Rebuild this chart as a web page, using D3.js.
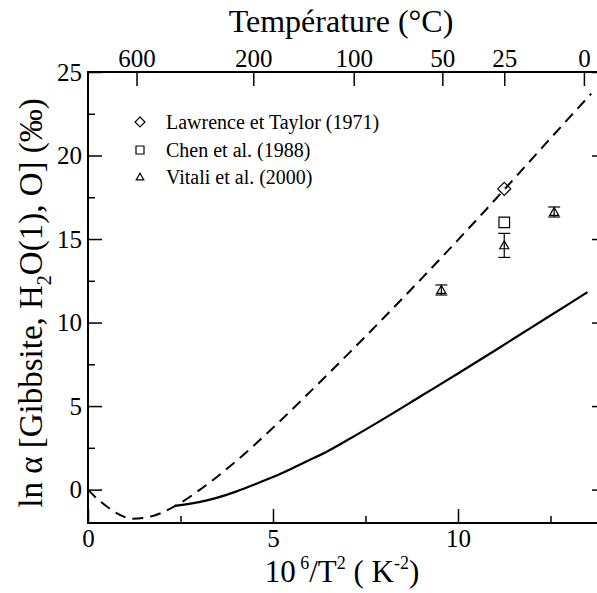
<!DOCTYPE html>
<html><head><meta charset="utf-8">
<script src="https://cdn.jsdelivr.net/npm/d3@7"></script>
<style>body{margin:0;background:#fff}svg{display:block}</style></head>
<body>
<svg id="c" width="597" height="593"></svg>
<script>
// ---- data ----
const dashedX = [0, 0.25, 0.5, 0.75, 1.0, 1.2, 1.5, 2.0, 2.35, 3.0, 4.0, 5.0, 6.0, 7.0, 8.0, 9.0, 10.0, 11.0, 12.0, 13.0, 13.6];
const dashedY = [0, -0.55, -1.0, -1.38, -1.65, -1.75, -1.7, -1.38, -0.99, -0.05, 1.7, 3.7, 5.85, 8.05, 10.3, 12.6, 14.95, 17.35, 19.8, 22.25, 23.7];
const solidX = [2.35, 2.6, 3.0, 3.5, 4.0, 4.5, 5.0, 5.5, 6.0, 6.5, 7.0, 8.0, 9.0, 10.0, 11.0, 12.0, 13.0, 13.5];
const solidY = [-0.97, -0.9, -0.75, -0.48, -0.12, 0.3, 0.75, 1.25, 1.78, 2.33, 2.95, 4.25, 5.6, 6.95, 8.33, 9.73, 11.12, 11.82];
const seriesNames = ["Lawrence et Taylor (1971)", "Chen et al. (1988)", "Vitali et al. (2000)"];
const lawrenceX = [11.25], lawrenceY = [18.0];
const chenX = [11.25], chenY = [16.0];
const vitaliX = [9.55, 11.25, 12.6];
const vitaliY = [11.95, 14.62, 16.62];
const vitaliErr = [0.3, 0.72, 0.3];
const xMajor = [0, 5, 10], xMinor = [2.5, 7.5, 12.5];
const yMajor = [0, 5, 10, 15, 20, 25], yMinor = [2.5, 7.5, 12.5, 17.5, 22.5];
const topTempLabels = [600, 200, 100, 50, 25, 0];

// ---- layout ----
const L = 88, R = 606, T = 72, B = 523;
const svg = d3.select("#c");
const x = d3.scaleLinear().domain([0, 14]).range([L, R]);
const y = d3.scaleLinear().domain([-2, 25]).range([B, T]);
const FONT = "'Liberation Serif','Times New Roman',serif";
const toInvT2 = t => 1e6 / Math.pow(t + 273.15, 2);
const TICKFS = 25;

function styleAxis(g, fs) {
  g.select(".domain").remove();
  g.selectAll("line").attr("stroke", "#000").attr("stroke-width", 1.5);
  g.selectAll("text").attr("font-family", FONT).attr("font-size", fs).attr("fill", "#000");
}
// left
svg.append("g").attr("transform", `translate(${L},0)`)
  .call(d3.axisLeft(y).tickValues(yMajor).tickSize(-14).tickPadding(6).tickFormat(d3.format("d")))
  .call(g => styleAxis(g, TICKFS));
svg.append("g").attr("transform", `translate(${L},0)`)
  .call(d3.axisLeft(y).tickValues(yMinor).tickSize(-7).tickFormat(""))
  .call(g => styleAxis(g, TICKFS));
// right
svg.append("g").attr("transform", `translate(${R},0)`)
  .call(d3.axisRight(y).tickValues(yMajor).tickSize(-14).tickFormat(""))
  .call(g => styleAxis(g, TICKFS));
// bottom
svg.append("g").attr("transform", `translate(0,${B})`)
  .call(d3.axisBottom(x).tickValues(xMajor).tickSize(-14).tickPadding(6).tickFormat(d3.format("d")))
  .call(g => styleAxis(g, TICKFS));
svg.append("g").attr("transform", `translate(0,${B})`)
  .call(d3.axisBottom(x).tickValues(xMinor).tickSize(-7).tickFormat(""))
  .call(g => styleAxis(g, TICKFS));
// top (temperature)
svg.append("g").attr("transform", `translate(0,${T})`)
  .call(d3.axisTop(x).tickValues(topTempLabels.map(toInvT2)).tickSize(-14).tickPadding(5)
    .tickFormat((d, i) => topTempLabels[i]))
  .call(g => styleAxis(g, TICKFS));

// frame
svg.append("rect").attr("x", L).attr("y", T).attr("width", R - L).attr("height", B - T)
  .attr("fill", "none").attr("stroke", "#000").attr("stroke-width", 2);

// curves
const line = d3.line().x(d => x(d[0])).y(d => y(d[1])).curve(d3.curveMonotoneX);
svg.append("path").datum(dashedX.map((v, i) => [v, dashedY[i]]))
  .attr("d", line).attr("fill", "none").attr("stroke", "#000").attr("stroke-width", 2)
  .attr("stroke-dasharray", "11,7");
svg.append("path").datum(solidX.map((v, i) => [v, solidY[i]]))
  .attr("d", line).attr("fill", "none").attr("stroke", "#000").attr("stroke-width", 2.2);

// markers
const diamond = (cx, cy, r) => `M${cx},${cy - r}L${cx + r},${cy}L${cx},${cy + r}L${cx - r},${cy}Z`;
const square = (cx, cy, r) => `M${cx - r},${cy - r}h${2 * r}v${2 * r}h${-2 * r}Z`;
const tri = (cx, cy, r) => `M${cx},${cy - r}L${cx + r},${cy + r * 0.75}L${cx - r},${cy + r * 0.75}Z`;
const mk = svg.append("g").attr("fill", "none").attr("stroke", "#000").attr("stroke-width", 1.2);
lawrenceX.forEach((v, i) => mk.append("path").attr("d", diamond(x(v), y(lawrenceY[i]), 6.5)));
chenX.forEach((v, i) => mk.append("path").attr("d", square(x(v), y(chenY[i]), 5.3)));
vitaliX.forEach((v, i) => {
  const cx = x(v), y0 = y(vitaliY[i] - vitaliErr[i]), y1 = y(vitaliY[i] + vitaliErr[i]);
  mk.append("line").attr("x1", cx).attr("x2", cx).attr("y1", y0).attr("y2", y1);
  mk.append("line").attr("x1", cx - 6).attr("x2", cx + 6).attr("y1", y0).attr("y2", y0);
  mk.append("line").attr("x1", cx - 6).attr("x2", cx + 6).attr("y1", y1).attr("y2", y1);
  mk.append("path").attr("d", tri(cx, y(vitaliY[i]), 4.5));
});

// legend
const legY = [122, 150, 177];
const legShapes = [(cx, cy) => diamond(cx, cy, 5), (cx, cy) => square(cx, cy, 4), (cx, cy) => tri(cx, cy, 3.8)];
seriesNames.forEach((n, i) => {
  mk.append("path").attr("d", legShapes[i](140, legY[i]));
  svg.append("text").attr("x", 166).attr("y", legY[i]).attr("dy", "0.35em")
    .attr("font-family", FONT).attr("font-size", 20).text(n);
});

// titles
svg.append("text").attr("x", (L + R) / 2 - 6).attr("y", 32).attr("text-anchor", "middle")
  .attr("font-family", FONT).attr("font-size", 32).text("Température (°C)");

const xt = svg.append("text").attr("x", 342).attr("y", 582).attr("text-anchor", "middle")
  .attr("font-family", FONT).attr("font-size", 31);
xt.append("tspan").text("10");
xt.append("tspan").attr("font-size", 18).attr("dy", -13).text(" 6");
xt.append("tspan").attr("dy", 13).text("/T");
xt.append("tspan").attr("font-size", 18).attr("dy", -13).text("2");
xt.append("tspan").attr("dy", 13).text(" ( K");
xt.append("tspan").attr("font-size", 18).attr("dy", -13).text("-2");
xt.append("tspan").attr("dy", 13).text(")");

const yt = svg.append("text").attr("transform", `translate(42,303) rotate(-90)`)
  .attr("text-anchor", "middle").attr("font-family", FONT).attr("font-size", 33);
yt.append("tspan").text("ln α [Gibbsite, H");
yt.append("tspan").attr("font-size", 20).attr("dy", 9).text("2");
yt.append("tspan").attr("dy", -9).text("O(1), O]  (‰)");
</script>
</body></html>
